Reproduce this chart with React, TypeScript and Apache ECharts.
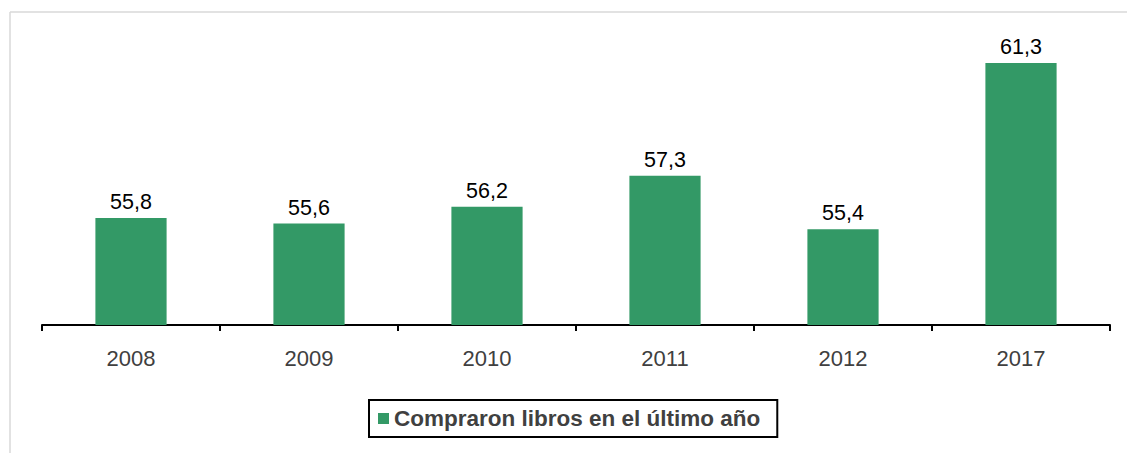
import React, { useEffect, useRef } from "react";
import * as echarts from "echarts";

const categories = ["2008", "2009", "2010", "2011", "2012", "2017"];
const values = [55.8, 55.6, 56.2, 57.3, 55.4, 61.3];
const seriesName = "Compraron libros en el último año";

const FONT = "'Liberation Sans', Arial, sans-serif";

export default function App() {
  const ref = useRef<HTMLDivElement>(null);
  useEffect(() => {
    document.body.style.margin = "0";
    const chart = echarts.init(ref.current!, null, { renderer: "svg" });
    chart.setOption({
      animation: false,
      backgroundColor: "#ffffff",
      grid: { left: 42, right: 17, top: 15, bottom: 128 },
      graphic: [
        { type: "line", shape: { x1: 10, y1: 12, x2: 1127, y2: 12 }, style: { stroke: "#d9d9d9", lineWidth: 1.5 } },
        { type: "line", shape: { x1: 10, y1: 12, x2: 10, y2: 453 }, style: { stroke: "#d9d9d9", lineWidth: 1.5 } },
      ],
      legend: {
        show: true,
        left: 369,
        top: 400,
        padding: [7, 17, 7, 9],
        borderColor: "#000",
        borderWidth: 2,
        itemWidth: 11,
        itemHeight: 11,
        itemGap: 9,
        icon: "rect",
        textStyle: { fontFamily: FONT, fontSize: 22.5, fontWeight: "bold", color: "#404040" },
        data: [seriesName],
      },
      xAxis: {
        type: "category",
        data: categories,
        axisLine: { lineStyle: { color: "#000", width: 2 } },
        axisTick: { show: true, length: 6, lineStyle: { color: "#000", width: 2 } },
        axisLabel: { fontFamily: FONT, fontSize: 22, color: "#404040", margin: 22 },
      },
      yAxis: {
        type: "value",
        min: 52,
        max: 63,
        show: false,
        splitLine: { show: false },
      },
      series: [
        {
          name: seriesName,
          type: "bar",
          data: values,
          barWidth: "40%",
          itemStyle: { color: "#339966" },
          label: {
            show: true,
            position: "top",
            distance: 5,
            fontFamily: FONT,
            fontSize: 21.5,
            color: "#000",
            formatter: (p: any) => String(p.value).replace(".", ","),
          },
        },
      ],
    });
    return () => chart.dispose();
  }, []);
  return <div ref={ref} style={{ width: 1127, height: 453 }} />;
}
